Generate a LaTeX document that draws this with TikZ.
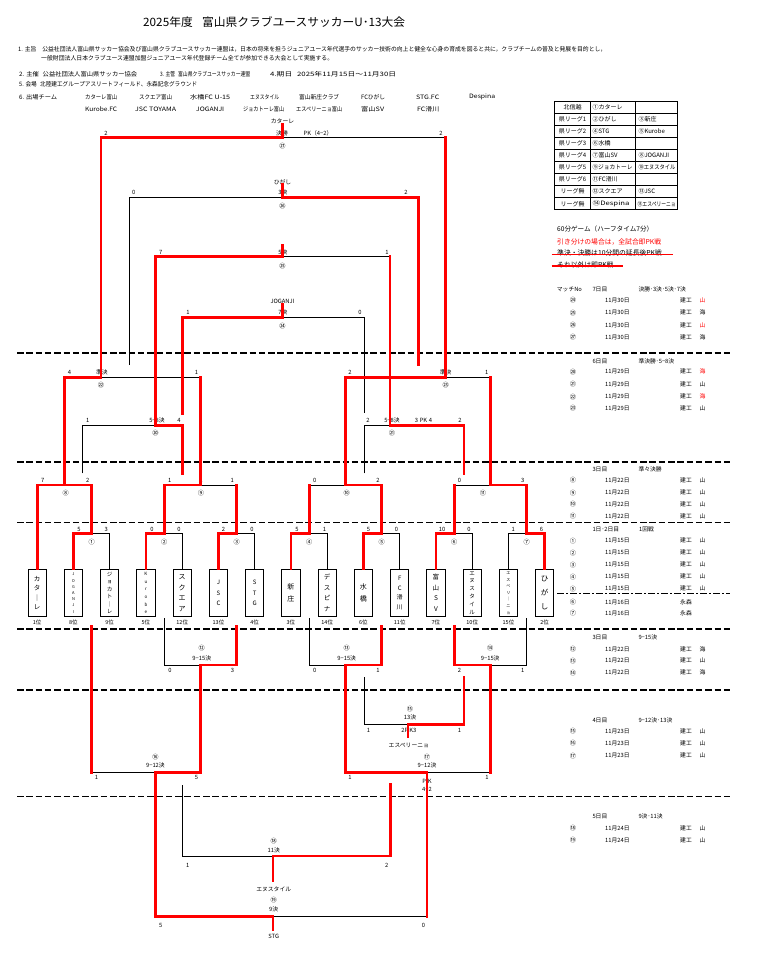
\documentclass[tikz,border=0pt]{standalone}
\usepackage{graphicx}
\usepackage{fontspec}
\setmainfont{Noto Sans CJK JP}
\definecolor{rd}{RGB}{255,0,0}
\newcommand\fsz[1]{\fontsize{#1}{#1}\selectfont}
\newcommand\hw[2]{\resizebox{#1pt}{\height}{#2}}
\begin{document}
\begin{tikzpicture}[x=1pt,y=-1pt,
  lb/.style={inner sep=0pt,font=\fsz{5.8}},
  ci/.style={inner sep=0pt,font=\fsz{6.2}},
  win/.style={draw=rd,line width=2.8pt,line cap=rect},
  los/.style={draw=black,line width=0.7pt},
  sepline/.style={draw=black,line width=1.3pt,dash pattern=on 6.5pt off 2.8pt},
  team/.style={draw,line width=0.8pt,minimum width=18.2pt,minimum height=47.4pt,inner sep=0pt,align=center},
  hd/.style={anchor=west,inner sep=0pt,font=\fsz{6}},
  sc/.style={anchor=west,inner sep=0pt,font=\fsz{5.8}},
]
\useasboundingbox (0,0) rectangle (761,956);

% ---------- header ----------
\node[anchor=west,inner sep=0pt,font=\fsz{11.5}] (title) at (143,22.5) {\hw{262}{2025年度\hspace{0.8em}富山県クラブユースサッカーU･13大会}};
\node[hd] (h1) at (18,49) {\hw{588}{1. 主旨\hspace{1em}公益社団法人富山県サッカー協会及び富山県クラブユースサッカー連盟は，日本の将来を担うジュニアユース年代選手のサッカー技術の向上と健全な心身の育成を図ると共に，クラブチームの普及と発展を目的とし，}};
\node[hd] (h1b) at (41,58) {\hw{292}{一般財団法人日本クラブユース連盟加盟ジュニアユース年代登録チーム全てが参加できる大会として実施する。}};
\node[hd] (h2) at (19,74) {\hw{118}{2. 主催\hspace{0.6em}公益社団法人富山県サッカー協会}};
\node[hd] (h3) at (160,74) {\hw{90}{3. 主管\hspace{0.6em}富山県クラブユースサッカー連盟}};
\node[hd] (h4) at (270,74) {\hw{126}{4.期日\hspace{0.6em}2025年11月15日～11月30日}};
\node[hd] (h5) at (19,84) {\hw{178}{5. 会場\hspace{0.6em}北陸建工グループアスリートフィールド、永森記念グラウンド}};
\node[hd] (h6) at (19,97) {\hw{38}{6. 出場チーム}};
\foreach \xx/\ww/\tt [count=\i] in {85/32/カターレ富山,139/33/スクエア富山,190/40/水橋FC U-15,250/29/エヌスタイル,299/40/富山新庄クラブ,361/24/FCひがし,416/23/STG.FC,469/26/Despina}
  \node[hd] (ha\i) at (\xx,97) {\hw{\ww}{\tt}};
\foreach \xx/\ww/\tt [count=\i] in {85/32/Kurobe.FC,135/41/JSC TOYAMA,196/28/JOGANJI,243/41/ジョカトーレ富山,296/46/エスペリーニョ富山,361/23/富山SV,417/22/FC滑川}
  \node[hd] (hb\i) at (\xx,109) {\hw{\ww}{\tt}};

% ---------- right table ----------
\draw[line width=0.9pt] (554,101.3) rectangle (677.7,209.75);
\draw[line width=0.9pt] (590.3,101.3) -- (590.3,209.75);
\draw[line width=0.9pt] (635.3,101.3) -- (635.3,209.75);
\foreach \k in {1,...,8} \draw[line width=0.9pt] (554,{101.3+12.05*\k}) -- (677.7,{101.3+12.05*\k});
\foreach \k/\a/\b/\c in {0/北信越/①カターレ/{},1/県リーグ1/②ひがし/③新庄,2/県リーグ2/④STG/⑤Kurobe,3/県リーグ3/⑥水橋/{},4/県リーグ4/⑦富山SV/⑧JOGANJI,6/県リーグ6/⑪FC滑川/{},7/リーグ無/⑫スクエア/⑬JSC}{
  \node[inner sep=0pt,font=\fsz{6}] at (572.5,{101.3+12.05*(\k+0.5)}) {\a};
  \node[sc,font=\fsz{6}] at (592.3,{101.3+12.05*(\k+0.5)}) {\b};
  \node[sc,font=\fsz{6}] at (638.3,{101.3+12.05*(\k+0.5)}) {\c};
}
\node[inner sep=0pt,font=\fsz{6}] at (572.5,{101.3+12.05*5.5}) {県リーグ5};
\node[sc,font=\fsz{6}] at (592.3,{101.3+12.05*5.5}) {\hw{40}{⑨ジョカトーレ}};
\node[sc,font=\fsz{6}] at (638.3,{101.3+12.05*5.5}) {\hw{37}{⑩エヌスタイル}};
\node[inner sep=0pt,font=\fsz{6}] at (572.5,{101.3+12.05*8.5}) {リーグ無};
\node[sc,font=\fsz{6}] at (592.3,{101.3+12.05*8.5}) {\hw{37}{⑭Despina}};
\node[sc,font=\fsz{6}] at (637.5,{101.3+12.05*8.5}) {\hw{38}{⑮エスペリーニョ}};

% ---------- notes ----------
\node[sc,font=\fsz{6.6}] (n1) at (557,229.3) {60分ゲーム（ハーフタイム7分）};
\node[sc,font=\fsz{6.8},text=rd] (n2) at (557,241.7) {引き分けの場合は，全試合即PK戦};
\node[sc,font=\fsz{6.8}] (n3) at (557,253.3) {準決・決勝は10分間の延長後PK戦};
\node[sc,font=\fsz{6.8}] (n4) at (557,265.3) {それ以外は即PK戦};
\draw[rd,line width=1.5pt] (551.7,254.3) -- (672.7,254.3);
\draw[rd,line width=1.5pt] (551.7,266) -- (623.3,266);

% ---------- schedule ----------
\node[sc] at (556.7,289.7) {マッチNo};
\node[sc] at (592.3,289.7) {7日目};
\node[sc] at (638.3,289.7) {決勝･3決･5決･7決};
\node[sc] at (592.3,361) {6日目};
\node[sc] at (638.3,361) {準決勝･5−8決};
\node[sc] at (592.3,469.3) {3日目};
\node[sc] at (638.3,469.3) {準々決勝};
\node[sc] at (592.3,529.3) {1日･2日目};
\node[sc] at (639,529.3) {1回戦};
\node[sc] at (592.3,637.3) {3日目};
\node[sc] at (638.3,637.3) {9−15決};
\node[sc] at (592.3,720) {4日目};
\node[sc] at (638.3,720) {9−12決･13決};
\node[sc] at (592.3,816.7) {5日目};
\node[sc] at (638.3,816.7) {9決･11決};
\foreach \yy/\nn/\dd/\pp/\cc in {300/㉔/11月30日/山/rd,312.7/㉕/11月30日/海/black,325/㉖/11月30日/山/rd,337.3/㉗/11月30日/海/black,
  371.7/⑳/11月29日/海/rd,384.3/㉑/11月29日/山/black,396.7/㉒/11月29日/海/rd,408.3/㉓/11月29日/山/black,
  480/⑧/11月22日/山/black,492.7/⑨/11月22日/山/black,504.3/⑩/11月22日/山/black,516/⑪/11月22日/山/black,
  540.7/①/11月15日/山/black,552.7/②/11月15日/山/black,564.7/③/11月15日/山/black,576.7/④/11月15日/山/black,588.7/⑤/11月15日/山/black,
  649.3/⑫/11月22日/海/black,660.7/⑬/11月22日/山/black,672.7/⑭/11月22日/海/black,
  731/⑮/11月23日/山/black,743.3/⑯/11月23日/山/black,755.7/⑰/11月23日/山/black,
  828.3/⑱/11月24日/山/black,840/⑲/11月24日/山/black}{
  \node[ci] at (573,\yy) {\nn};
  \node[sc] at (605,\yy) {\dd};
  \node[sc] at (680,\yy) {建工};
  \node[sc,text=\cc] at (699.5,\yy) {\pp};
}
\foreach \yy/\nn in {602/⑥,613.3/⑦}{
  \node[ci] at (573,\yy) {\nn};
  \node[sc] at (605,\yy) {11月16日};
  \node[sc] at (680,\yy) {永森};
}

% ---------- separators ----------
\foreach \yy in {353,462,522.3,629,690,796.7}
  \draw[sepline] (17,\yy) -- (730,\yy);
\draw[black,line width=1pt,dash pattern=on 7pt off 2pt on 2pt off 2pt] (557,593) -- (730,593);

% ---------- team boxes ----------
\node[team,font=\fontsize{6.5}{9.5}\selectfont] (t1) at (37.2,593) {カ\\タ\\｜\\レ};
\node[team,font=\fontsize{4}{6.2}\selectfont] (t2) at (73.45,593) {J\\O\\G\\A\\N\\J\\I};
\node[team,font=\fontsize{5.5}{7.5}\selectfont] (t3) at (109.7,593) {ジ\\ョ\\カ\\ト\\｜\\レ};
\node[team,font=\fontsize{4.5}{7.6}\selectfont] (t4) at (145.95,593) {K\\u\\r\\o\\b\\e};
\node[team,font=\fontsize{7}{10.5}\selectfont] (t5) at (182.2,593) {ス\\ク\\エ\\ア};
\node[team,font=\fontsize{6}{10.5}\selectfont] (t6) at (218.45,593) {J\\S\\C};
\node[team,font=\fontsize{6}{10.5}\selectfont] (t7) at (254.7,593) {S\\T\\G};
\node[team,font=\fontsize{7}{12.3}\selectfont] (t8) at (290.95,593) {新\\庄};
\node[team,font=\fontsize{6.5}{10.5}\selectfont] (t9) at (327.2,593) {デ\\ス\\ピ\\ナ};
\node[team,font=\fontsize{7}{12.3}\selectfont] (t10) at (363.45,593) {水\\橋};
\node[team,font=\fontsize{6}{9.5}\selectfont] (t11) at (399.7,593) {F\\C\\滑\\川};
\node[team,font=\fontsize{6.5}{10.5}\selectfont] (t12) at (435.95,593) {富\\山\\S\\V};
\node[team,font=\fontsize{5.5}{7.9}\selectfont] (t13) at (472.2,593) {エ\\ヌ\\ス\\タ\\イ\\ル};
\node[team,font=\fontsize{4}{6.6}\selectfont] (t14) at (508.45,593) {エ\\ス\\ペ\\リ\\｜\\ニ\\ョ};
\node[team,font=\fontsize{7.5}{14}\selectfont] (t15) at (544.7,593) {ひ\\が\\し};
\foreach \xx/\rr [count=\i] in {37.2/1位,73.45/8位,109.7/9位,145.95/5位,182.2/12位,218.45/13位,254.7/4位,290.95/3位,327.2/14位,363.45/6位,399.7/11位,435.95/7位,472.2/10位,508.45/15位,544.7/2位}
  \node[lb,font=\fsz{5.5}] (r\i) at (\xx,622.3) {\rr};

% ---------- coordinates ----------
\coordinate (m1) at (91.6,533.3);  \coordinate (m2) at (164.1,533.3);
\coordinate (m3) at (236.6,533.3); \coordinate (m4) at (309.1,533.3);
\coordinate (m5) at (381.6,533.3); \coordinate (m6) at (454.1,533.3);
\coordinate (m7) at (526.6,533.3);
\coordinate (m8) at (64.4,485);    \coordinate (m9) at (200.4,485);
\coordinate (m10) at (345.4,485);  \coordinate (m11) at (490.4,485);
\coordinate (s22) at (101,377.3);  \coordinate (s23) at (445.6,377.3);
\coordinate (s20) at (155.4,425.7); \coordinate (s21) at (390,425.7);
\coordinate (a20) at (82.5,473.3); \coordinate (b20) at (182.5,473.3);
\coordinate (a21) at (363.9,473.3); \coordinate (b21) at (463.9,473.3);
\coordinate (f27) at (282.5,137.3); \coordinate (f26) at (282.5,197.3);
\coordinate (f25) at (282.5,256.7); \coordinate (f24) at (282.5,317.3);
\coordinate (a26) at (129,365);    \coordinate (b26) at (418.6,365);
\coordinate (e25) at (282.5,245);
\coordinate (a24) at (182.5,413.3); \coordinate (b24) at (364,413.3);
\coordinate (d1) at (91.6,626);  \coordinate (d2) at (164.1,618);
\coordinate (d3) at (236.6,626); \coordinate (d4) at (309.1,618);
\coordinate (d5) at (381.6,626); \coordinate (d6) at (454.1,626);
\coordinate (d7) at (526.6,618);
\coordinate (c12) at (200.4,665); \coordinate (c13) at (345.4,665); \coordinate (c14) at (490.4,665);
\coordinate (c15) at (408,724.3); \coordinate (a15) at (363.9,677.3); \coordinate (b15) at (463.9,677.3);
\coordinate (e15) at (408,736.7);
\coordinate (c16) at (155.4,772.3); \coordinate (c17) at (427,772.3);
\coordinate (c18) at (273,856); \coordinate (a18) at (182.5,785); \coordinate (b18) at (390.5,784);
\coordinate (e18) at (273,880.7);
\coordinate (c19) at (273,916.7); \coordinate (e19) at (273,930);

% ---------- bracket labels ----------
\node[lb] (champ) at (282.5,121.5) {カターレ};
\node[lb] at (106,133.3) {2};
\node[lb] at (282,133.3) {決勝};
\node[lb] at (318,133.3) {PK（4−2）};
\node[lb] at (441,133.3) {2};
\node[ci] at (282.5,145.7) {㉗};
\node[lb] (third) at (282.5,181.7) {ひがし};
\node[lb] at (133.7,192.3) {0};
\node[lb] at (283,192.3) {3決};
\node[lb] at (406,192.3) {2};
\node[ci] at (282.5,205.7) {㉖};
\node[lb] at (160.7,252.7) {7};
\node[lb] at (283,252.7) {5決};
\node[lb] at (387,252.7) {1};
\node[ci] at (282.5,265.7) {㉕};
\node[lb] (seventh) at (282.5,301.7) {JOGANJI};
\node[lb] at (188,312.7) {1};
\node[lb] at (283,312.7) {7決};
\node[lb] at (360,312.7) {0};
\node[ci] at (282.5,325.7) {㉔};
\node[lb] at (69.5,372.7) {4};
\node[lb] at (101.8,372.7) {準決};
\node[lb] at (196.5,372.7) {1};
\node[ci] at (101,385) {㉒};
\node[lb] at (350,372.7) {2};
\node[lb] at (445.6,372.7) {準決};
\node[lb] at (486.7,372.7) {1};
\node[ci] at (445.6,385) {㉓};
\node[lb] at (87.7,420.7) {1};
\node[lb] at (157,420.7) {5−8決};
\node[lb] at (179,420.7) {4};
\node[ci] at (155.4,433.3) {⑳};
\node[lb] at (368,420.7) {2};
\node[lb] at (392,420.7) {5−8決};
\node[lb] at (423.5,420.7) {3\hspace{0.3em}PK\hspace{0.3em}4};
\node[lb] at (460,420.7) {2};
\node[ci] at (392,433.3) {㉑};
\node[lb] at (42.8,480.7) {7};
\node[lb] at (87.7,480.7) {2};
\node[ci] at (65.6,493.3) {⑧};
\node[lb] at (169.8,480.7) {1};
\node[lb] at (201,480.7) {2};
\node[lb] at (232.3,480.7) {1};
\node[ci] at (201,493.3) {⑨};
\node[lb] at (314.7,480.7) {0};
\node[lb] at (377.9,480.7) {2};
\node[ci] at (346.7,493.3) {⑩};
\node[lb] at (459.6,480.7) {0};
\node[lb] at (522.8,480.7) {3};
\node[ci] at (483,493.3) {⑪};
\foreach \xa/\sa/\xb/\sb/\xc/\cc in {79/5/106.3/3/91.6/①,152/0/179/0/164.1/②,223.5/2/252/0/236.6/③,297/5/324.6/1/309.1/④,368.4/5/396.5/0/381.6/⑤,442/10/469/0/454.1/⑥,513.3/1/541.4/6/526.6/⑦}{
  \node[lb] at (\xa,529) {\sa};
  \node[lb] at (\xb,529) {\sb};
  \node[ci] at (\xc,541.7) {\cc};
}
\node[lb] at (165,529) {2};
% lower
\node[ci] at (201.8,648.3) {⑫};
\node[lb] at (201.8,658.3) {9−15決};
\node[lb] at (170,670.7) {0};
\node[lb] at (232.6,670.7) {3};
\node[ci] at (346.7,648.3) {⑬};
\node[lb] at (346.7,658.3) {9−15決};
\node[lb] at (314.7,670.7) {0};
\node[lb] at (378,670.7) {1};
\node[ci] at (490.2,648.3) {⑭};
\node[lb] at (490.2,658.3) {9−15決};
\node[lb] at (459.6,670.7) {2};
\node[lb] at (522.8,670.7) {1};
\node[ci] at (410,709) {⑮};
\node[lb] at (410,717.7) {13決};
\node[lb] at (368.4,730) {1};
\node[lb] at (408.8,730) {2P\hspace{0.2em}K3};
\node[lb] at (459.6,730) {1};
\node[lb] (espe) at (408.8,745) {エスペリーニョ};
\node[ci] at (155.4,756.7) {⑯};
\node[lb] at (155.4,765.7) {9−12決};
\node[lb] at (96.5,777.3) {1};
\node[lb] at (196.5,777.3) {5};
\node[ci] at (427,756.7) {⑰};
\node[lb] at (427,765.7) {9−12決};
\node[lb] at (350,777.3) {1};
\node[lb] at (487,777.3) {1};
\node[lb] at (427,781) {P\hspace{0.3em}K};
\node[lb] at (427,789) {4−2};
\node[ci] at (273.7,840.7) {⑱};
\node[lb] at (273.7,850) {11決};
\node[lb] at (187.7,865) {1};
\node[lb] at (386.7,865) {2};
\node[lb] (enu) at (273.7,889) {エヌスタイル};
\node[ci] at (273.7,900) {⑲};
\node[lb] at (273.7,909.3) {9決};
\node[lb] at (160.7,925) {5};
\node[lb] at (423.5,925) {0};
\node[lb] (stg) at (273.7,936.7) {STG};

% ---------- black (losing) lines ----------
\draw[los] (m1) -| (t3.north);
\draw[los] (m2) -| (t5.north);
\draw[los] (m3) -| (t7.north);
\draw[los] (m4) -| (t9.north);
\draw[los] (m5) -| (t11.north);
\draw[los] (m6) -| (t13.north);
\draw[los] (t14.north) |- (m7);
\draw[los] (m9) -- (m9 -| m3);
\draw[los] (m10) -- (m10 -| m4);
\draw[los] (m11) -- (m11 -| m6);
\draw[los] (s22) -- (s22 -| m9);
\draw[los] (s23) -- (s23 -| m11);
\draw[los] (f27) -- (f27 -| s23);
\draw[los] (a26) |- (f26);
\draw[los] (f25) -- (f25 -| s21);
\draw[los] (f24) -| (b24);
\draw[los] (a20) |- (s20);
\draw[los] (a21) |- (s21);
\draw[los] (d2) |- (c12);
\draw[los] (d4) |- (c13);
\draw[los] (c14) -| (d7);
\draw[los] (a15) |- (c15);
\draw[los] (c16 -| d1) -- (c16);
\draw[los] (c17) -- (c17 -| c14);
\draw[los] (a18) |- (c18);
\draw[los] (c19) -- (c19 -| c17);

% ---------- red (winning) lines ----------
\draw[win] (t2.north) |- (m1);
\draw[win] (t4.north) |- (m2);
\draw[win] (t6.north) |- (m3);
\draw[win] (t8.north) |- (m4);
\draw[win] (t10.north) |- (m5);
\draw[win] (t12.north) |- (m6);
\draw[win] (m7) -| (t15.north);
\draw[win] (t1.north) |- (m8);
\draw[win] (m8) -| (m1);
\draw[win] (m2) |- (m9);
\draw[win] (m3) -- (m9 -| m3);
\draw[win] (m4) -- (m10 -| m4);
\draw[win] (m10) -| (m5);
\draw[win] (m6) -- (m11 -| m6);
\draw[win] (m11) -| (m7);
\draw[win] (m8) |- (s22) |- (f27) -- (champ.south);
\draw[win] (m9) -- (s22 -| m9);
\draw[win] (m10) |- (s23);
\draw[win] (m11) -- (s23 -| m11);
\draw[win] (f27 -| s23) -- (s23);
\draw[win] (third.south) -- (f26) -| (b26);
\draw[win] (s20) |- (f25) -- (e25);
\draw[win] (f25 -| s21) -- (s21);
\draw[win] (a24) |- (f24) -- (seventh.south);
\draw[win] (s20) -| (b20);
\draw[win] (s21) -| (b21);
\draw[win] (c12) -| (d3);
\draw[win] (c13) -| (d5);
\draw[win] (d6) |- (c14);
\draw[win] (c15) -| (b15);
\draw[win] (c15) -- (e15);
\draw[win] (d1) -- (c16 -| d1);
\draw[win] (c16) -| (c12);
\draw[win] (c16) |- (c19) -- (e19);
\draw[win] (c13) |- (c17) -- (c17 |- c19);
\draw[win] (c17 -| c14) -- (c14);
\draw[win] (c18) -| (b18);
\draw[win] (c18) -- (e18);
\end{tikzpicture}
\end{document}
